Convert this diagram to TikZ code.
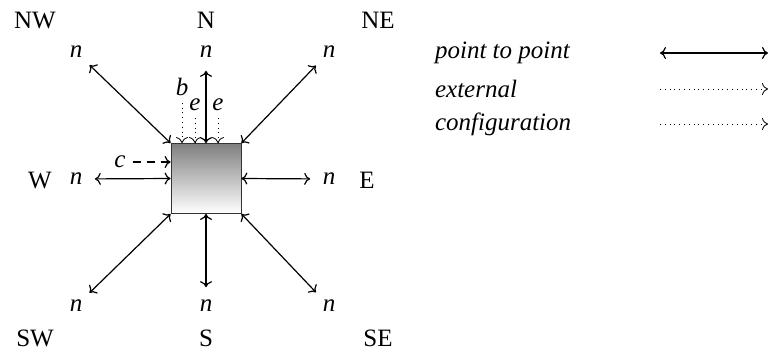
\documentclass[tikz,border=0pt]{standalone}
\usepackage{fontspec}
\setmainfont{Liberation Serif}
\usetikzlibrary{positioning,arrows.meta}

\begin{document}
\begin{tikzpicture}[x=0.5pt, y=-0.5pt,
  font=\fontsize{12.5}{14}\selectfont,
  >={To[length=3pt,width=6pt]},
  blk/.style={draw=black!80, minimum size=35pt, inner sep=0pt, top color=black!50, bottom color=white},
  dirlab/.style={},
  nlab/.style={font=\fontsize{12.5}{14}\selectfont\itshape, circle, inner sep=3.5pt},
  plab/.style={font=\fontsize{12.5}{14}\selectfont\itshape},
  p2p/.style={<->, semithick},
  ext/.style={->, dotted},
  cfg/.style={->, dash pattern=on 4pt off 3pt, semithick},
  leg/.style={font=\fontsize{12.5}{14}\selectfont\itshape, anchor=west}
]
  \useasboundingbox (0,0) rectangle (770,355);

  % the block
  \node[blk] (box) at (206,178.5) {};

  % compass labels
  \node[dirlab] (NW) at (35,20) {NW};
  \node[dirlab] (N)  at (206,20) {N};
  \node[dirlab] (NE) at (378,20) {NE};
  \node[dirlab] (W)  at (40,180) {W};
  \node[dirlab] (E)  at (367,180) {E};
  \node[dirlab] (SW) at (35,338) {SW};
  \node[dirlab] (S)  at (206,338) {S};
  \node[dirlab] (SE) at (378,338) {SE};

  % neighbours
  \node[nlab] (nNW) at (76,52) {n};
  \node[nlab] (nN)  at (206,52) {n};
  \node[nlab] (nNE) at (329,52) {n};
  \node[nlab] (nW)  at (76,179) {n};
  \node[nlab] (nE)  at (329,179) {n};
  \node[nlab] (nSW) at (76,306) {n};
  \node[nlab] (nS)  at (206,306) {n};
  \node[nlab] (nSE) at (329,306) {n};

  % point to point links
  \draw[p2p] (nNW) -- (box.north west);
  \draw[p2p] (nN)  -- (box.north);
  \draw[p2p] (nNE) -- (box.north east);
  \draw[p2p] (nW)  -- (box.west);
  \draw[p2p] (nE)  -- (box.east);
  \draw[p2p] (nSW) -- (box.south west);
  \draw[p2p] (nS)  -- (box.south);
  \draw[p2p] (nSE) -- (box.south east);

  % external and configuration ports
  \node[plab] (b)  at (182,87) {b};
  \node[plab] (e1) at (195,105) {e};
  \node[plab] (e2) at (218,105) {e};
  \node[plab] (c)  at (120,162) {c};
  \draw[ext] (b)  -- (b |- box.north);
  \draw[ext] (e1) -- (e1 |- box.north);
  \draw[ext] (e2) -- (e2 |- box.north);
  \draw[cfg] (c)  -- (c -| box.west);

  % legend
  \node[leg] (lp) at (428,53) {point to point};
  \node[leg] (le) at (428,89) {external};
  \node[leg] (lc) at (428,124) {configuration};
  \coordinate (lpa) at (660,53);  \coordinate (lpb) at (768,53);
  \coordinate (lea) at (660,89);  \coordinate (leb) at (768,89);
  \coordinate (lca) at (660,124); \coordinate (lcb) at (768,124);
  \draw[p2p] (lpa) -- (lpb);
  \draw[ext] (lea) -- (leb);
  \draw[ext] (lca) -- (lcb);
\end{tikzpicture}
\end{document}
